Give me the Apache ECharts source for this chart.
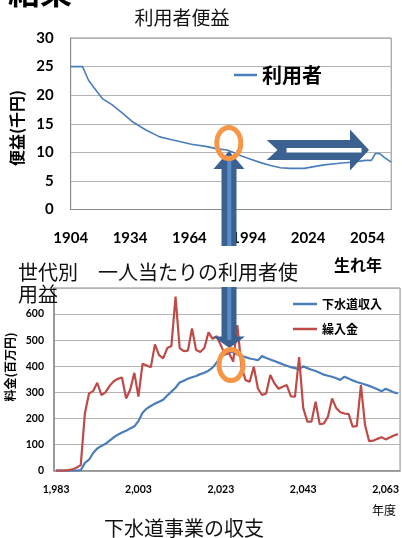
<!DOCTYPE html>
<html><head><meta charset="utf-8">
<script src="https://cdn.jsdelivr.net/npm/echarts@6/dist/echarts.min.js"></script>
<style>html,body{margin:0;padding:0;background:#fff}#c{width:402px;height:538px}</style>
</head><body><div id="c"></div>
<script>
// ---- Top chart: benefit per user by birth year ----
const benefitYears  = [1904,1910,1913,1916,1920,1925,1930,1935,1942,1949,1954,1959,1965,1973,1978,1983,1986,1990,1995,2000,2005,2010,2015,2022,2027,2032,2040,2047,2053,2056,2058,2060,2063,2066];
const benefitValues = [25,25,22.6,21.2,19.4,18.3,16.9,15.4,13.9,12.7,12.3,11.9,11.4,11.0,10.6,10.4,10.0,9.4,8.8,8.2,7.7,7.3,7.2,7.2,7.5,7.8,8.1,8.3,8.6,8.6,9.8,9.8,9.0,8.3];
const benefitTicks  = [1904,1934,1964,1994,2024,2054];

// ---- Bottom chart: sewer business revenue / transfers ----
const fiscalYears = [1983,1984,1985,1986,1987,1988,1989,1990,1991,1992,
  1993,1994,1995,1996,1997,1998,1999,2000,2001,2002,
  2003,2004,2005,2006,2007,2008,2009,2010,2011,2012,
  2013,2014,2015,2016,2017,2018,2019,2020,2021,2022,
  2023,2024,2025,2026,2027,2028,2029,2030,2031,2032,
  2033,2034,2035,2036,2037,2038,2039,2040,2041,2042,
  2043,2044,2045,2046,2047,2048,2049,2050,2051,2052,
  2053,2054,2055,2056,2057,2058,2059,2060,2061,2062,
  2063,2064,2065,2066];
const revenue = [0,0,0,0,0,0,2,30,42,68,
  85,95,103,115,128,138,146,153,162,170,
  190,222,238,248,257,264,272,288,303,318,
  338,345,352,358,363,370,375,383,395,415,
  435,447,453,455,445,439,435,430,427,423,
  439,432,426,420,414,408,402,397,393,389,
  400,393,387,382,375,368,364,360,354,348,
  360,353,346,340,335,330,325,319,312,304,
  314,307,300,296];
const transfer = [0,0,0,2,5,12,22,220,296,305,
  337,290,300,325,343,352,357,277,310,375,
  284,410,403,396,484,443,430,470,478,667,
  470,458,460,545,462,455,470,530,505,515,
  480,445,450,418,558,400,347,341,398,315,
  290,296,367,335,314,322,328,285,284,435,
  240,188,188,264,178,181,207,277,240,224,
  219,218,169,171,328,175,113,115,122,128,
  120,127,135,140];

const CJK = '"Noto Sans CJK JP", sans-serif';
const NUM = 'Lato, "Noto Sans CJK JP", sans-serif';
const BLUE = '#4a7ebb', RED = '#be4b48', ORANGE = '#f79646';
const ARROW = '#3b6191', ARROW_LIGHT = '#5b8cc8';
const GRIDC = '#b4b4b4', AXISC = '#8a8a8a';

const chart = echarts.init(document.getElementById('c'), null, {renderer:'canvas', width:402, height:538});

function comma(v){ const s = String(v); return s.length > 3 ? s.slice(0, s.length-3) + ',' + s.slice(-3) : s; }

const option = {
  animation: false,
  backgroundColor: '#fff',
  grid: [
    {left:70.7, top:38, width:320.5, height:171.5, show:true, borderColor:AXISC, borderWidth:1, backgroundColor:'transparent'},
    {left:54, top:288, width:352.8, height:182.7, show:true, borderColor:AXISC, borderWidth:1, backgroundColor:'transparent'}
  ],
  xAxis: [
    {gridIndex:0, type:'value', min:1904, max:2066,
     axisLine:{show:true, onZero:false, lineStyle:{color:AXISC, width:1}},
     axisTick:{show:false}, splitLine:{show:false},
     axisLabel:{customValues:benefitTicks, formatter:(v)=>String(v), fontFamily:NUM, fontWeight:'bold', fontSize:15, color:'#000', margin:21}},
    {gridIndex:1, type:'category', data:fiscalYears, boundaryGap:true,
     axisLine:{show:true, lineStyle:{color:AXISC, width:1.5}},
     axisTick:{show:false}, splitLine:{show:false},
     axisLabel:{interval:19, formatter:(v)=>comma(v), fontFamily:NUM, fontWeight:'bold', fontSize:10.5, color:'#000', margin:14}}
  ],
  yAxis: [
    {gridIndex:0, type:'value', min:0, max:30, interval:5,
     axisLine:{show:true, lineStyle:{color:AXISC, width:1}}, axisTick:{show:false},
     splitLine:{show:true, lineStyle:{color:GRIDC, width:1}},
     axisLabel:{fontFamily:NUM, fontWeight:'bold', fontSize:15, color:'#000', margin:17}},
    {gridIndex:1, type:'value', min:0, max:700, interval:100,
     axisLine:{show:true, lineStyle:{color:AXISC, width:1.5}}, axisTick:{show:false},
     splitLine:{show:true, lineStyle:{color:GRIDC, width:1}},
     axisLabel:{formatter:(v)=> v===700 ? '' : String(v), fontFamily:NUM, fontWeight:'bold', fontSize:10.5, color:'#000', margin:10}}
  ],
  legend: [
    {data:['利用者'], left:229, top:60, icon:'rect', itemWidth:23, itemHeight:2.5,
     textStyle:{fontFamily:CJK, fontWeight:'bold', fontSize:20, color:'#000'}},
    {data:['下水道収入','繰入金'], orient:'vertical', left:288, top:293, icon:'rect', itemWidth:24, itemHeight:2.5, itemGap:13,
     textStyle:{fontFamily:CJK, fontWeight:'bold', fontSize:12, color:'#000'}}
  ],
  series: [
    {type:'line', name:'利用者', xAxisIndex:0, yAxisIndex:0,
     data: benefitYears.map((y,i)=>[y, benefitValues[i]]),
     symbol:'none', showSymbol:false, lineStyle:{color:BLUE, width:1.6}, itemStyle:{color:BLUE}},
    {type:'line', name:'下水道収入', xAxisIndex:1, yAxisIndex:1, data:revenue,
     symbol:'none', showSymbol:false, lineStyle:{color:BLUE, width:2.2}, itemStyle:{color:BLUE}},
    {type:'line', name:'繰入金', xAxisIndex:1, yAxisIndex:1, data:transfer,
     symbol:'none', showSymbol:false, lineStyle:{color:RED, width:2.2}, itemStyle:{color:RED}}
  ],
  graphic: {elements: [
    {type:'text', x:8, y:-24, z:100, style:{text:'結果', fontFamily:CJK, fontWeight:'bold', fontSize:32, fill:'#000', align:'left', verticalAlign:'top'}},
    {type:'text', x:182, y:18, z:100, style:{text:'利用者便益', fontFamily:CJK, fontSize:19, fill:'#111', align:'center', verticalAlign:'middle'}},
    {type:'text', x:17, y:128, rotation:Math.PI/2, z:100, style:{text:'便益(千円)', fontFamily:CJK, fontWeight:'bold', fontSize:16, fill:'#000', align:'center', verticalAlign:'middle'}},
    {type:'text', x:358, y:265, z:100, style:{text:'生れ年', fontFamily:CJK, fontWeight:'bold', fontSize:16, fill:'#000', align:'center', verticalAlign:'middle'}},
    // vertical double arrow
    {type:'rect', z:110, shape:{x:221.5, y:168, width:15, height:169}, style:{fill:ARROW}},
    {type:'rect', z:111, shape:{x:227.3, y:160, width:4, height:180}, style:{fill:ARROW_LIGHT}},
    {type:'polygon', z:110, shape:{points:[[229,151],[244.5,169],[213.5,169]]}, style:{fill:ARROW}},
    {type:'polygon', z:110, shape:{points:[[213,336.5],[245,336.5],[229.5,348]]}, style:{fill:ARROW}},
    // right notched arrow
    {type:'polygon', z:110, shape:{points:[[266.7,140],[350,140],[350,129.5],[369,150],[350,170.5],[350,160],[266.7,160],[277.5,150]]}, style:{fill:ARROW}},
    {type:'rect', z:111, shape:{x:286.5, y:148, width:75, height:4.5}, style:{fill:'#fff'}},
    // text box covering the arrow
    {type:'rect', z:120, shape:{x:8, y:246, width:300, height:41}, style:{fill:'#fff'}},
    {type:'text', x:18, y:272, z:121, style:{text:'世代別　一人当たりの利用者使', fontFamily:CJK, fontSize:20, fill:'#111', align:'left', verticalAlign:'middle'}},
    {type:'text', x:18, y:294, z:121, style:{text:'用益', fontFamily:CJK, fontSize:20, fill:'#111', align:'left', verticalAlign:'middle'}},
    // orange circles
    {type:'ellipse', z:130, shape:{cx:228.8, cy:143, rx:12, ry:15.5}, style:{fill:'none', stroke:ORANGE, lineWidth:5}},
    {type:'ellipse', z:130, shape:{cx:231, cy:365, rx:12, ry:15.5}, style:{fill:'none', stroke:ORANGE, lineWidth:5}},
    // bottom chart texts
    {type:'text', x:10, y:367, rotation:Math.PI/2, z:100, style:{text:'料金(百万円)', fontFamily:CJK, fontWeight:'bold', fontSize:12, fill:'#000', align:'center', verticalAlign:'middle'}},
    {type:'text', x:384, y:510, z:100, style:{text:'年度', fontFamily:CJK, fontSize:12, fill:'#000', align:'center', verticalAlign:'middle'}},
    {type:'text', x:184, y:528, z:100, style:{text:'下水道事業の収支', fontFamily:CJK, fontSize:20, fill:'#111', align:'center', verticalAlign:'middle'}}
  ]}
};
chart.setOption(option);
</script>
</body></html>
